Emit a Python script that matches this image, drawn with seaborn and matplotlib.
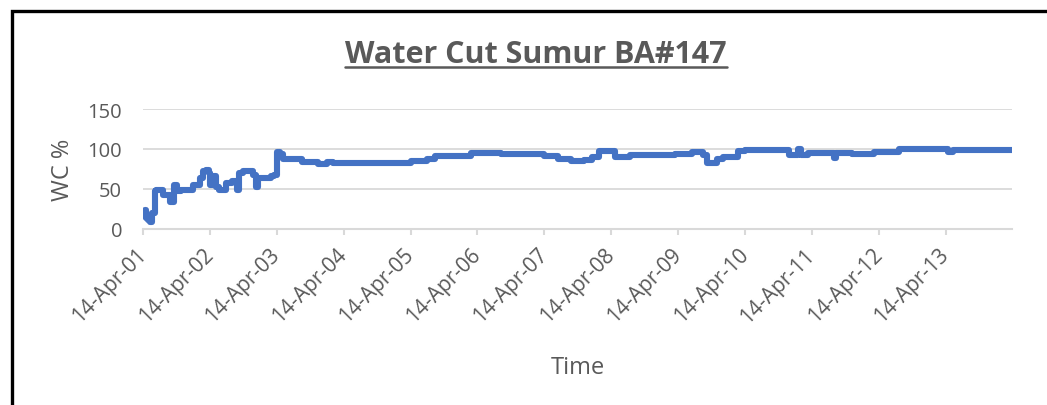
import matplotlib
matplotlib.use("Agg")
import matplotlib.pyplot as plt
import matplotlib.dates as mdates
from matplotlib.patches import Rectangle
from matplotlib.lines import Line2D
import pandas as pd
import seaborn as sns

# ---- data ----
dates = ["2001-04-14", "2001-04-23", "2001-05-02", "2001-05-11", "2001-05-24",
         "2001-06-04", "2001-06-17", "2001-06-25", "2001-08-02", "2001-09-07",
         "2001-10-01", "2001-10-14", "2001-11-10", "2002-01-13", "2002-02-18",
         "2002-03-09", "2002-03-23", "2002-04-07", "2002-04-14", "2002-05-02",
         "2002-05-17", "2002-06-04", "2002-07-11", "2002-08-11", "2002-09-07",
         "2002-09-22", "2002-10-14", "2002-12-04", "2002-12-22", "2003-01-04",
         "2003-03-12", "2003-03-30", "2003-04-17", "2003-05-01", "2003-05-16",
         "2003-08-30", "2003-11-26", "2004-01-16", "2004-02-14", "2004-11-20",
         "2005-04-14", "2005-07-14", "2005-08-27", "2006-03-09", "2006-08-20",
         "2007-04-14", "2007-06-26", "2007-09-07", "2007-11-19", "2008-01-01",
         "2008-02-08", "2008-05-02", "2008-07-25", "2009-03-27", "2009-06-26",
         "2009-08-27", "2009-09-18", "2009-11-11", "2009-12-17", "2010-03-08",
         "2010-04-14", "2010-12-07", "2011-01-27", "2011-02-11", "2011-03-23",
         "2011-08-12", "2011-08-23", "2011-11-19", "2012-03-18", "2012-08-01",
         "2013-04-25", "2013-05-21", "2014-04-10"]
wc = [17, 24, 14, 11, 9,
      20, 47, 49, 43, 34,
      55, 47, 49, 55, 64,
      72, 74, 70, 55, 66,
      53, 49, 58, 60, 49,
      70, 72, 68, 53, 64,
      66, 68, 96, 94, 87,
      84, 81, 84, 82, 83,
      85, 87, 91, 95, 94,
      91, 88, 85, 86, 90,
      98, 90, 92, 94, 96,
      92, 82, 87, 90, 98,
      99, 92, 100, 92, 95,
      89, 95, 94, 96, 100,
      96, 99, 99]
tick_dates = ["2001-04-14", "2002-04-14", "2003-04-14", "2004-04-14", "2005-04-14",
              "2006-04-14", "2007-04-14", "2008-04-14", "2009-04-14", "2010-04-14",
              "2011-04-14", "2012-04-14", "2013-04-14"]
y_ticks = [0, 50, 100, 150]
title = "Water Cut Sumur BA#147"
x_label = "Time"
y_label = "WC %"

df = pd.DataFrame({"date": pd.to_datetime(dates), "wc": wc})

sns.set_theme(style="white")
plt.rcParams["font.family"] = ["Open Sans", "DejaVu Sans"]

TXT = "#595959"
GRID = "#D9D9D9"
LINE = "#4472C4"

W, H = 1047, 406
fig = plt.figure(figsize=(W / 100, H / 100), dpi=100)
fig.patch.set_facecolor("white")
ax = fig.add_axes([143 / W, 1 - 230 / H, (1012 - 143) / W, 120 / H])

sns.lineplot(data=df, x="date", y="wc", ax=ax, color=LINE, linewidth=4.4,
             drawstyle="steps-post", solid_joinstyle="round", solid_capstyle="round")

ax.set_ylim(0, 150)
ax.set_xlim(pd.Timestamp("2001-04-14"), pd.Timestamp("2014-04-10"))
ax.set_yticks(y_ticks)
ax.set_xticks(pd.to_datetime(tick_dates))
ax.xaxis.set_major_formatter(mdates.DateFormatter("%d-%b-%y"))

ax.grid(axis="y", color=GRID, linewidth=1.3)
ax.grid(axis="x", visible=False)
for s in ["top", "right", "left"]:
    ax.spines[s].set_visible(False)
ax.spines["bottom"].set_color(GRID)
ax.spines["bottom"].set_linewidth(1.5)
ax.set_axisbelow(True)

ax.tick_params(axis="y", length=0, pad=15, labelsize=14.5, labelcolor=TXT)
ax.tick_params(axis="x", length=4, width=1.5, color=GRID, direction="out",
               pad=12, labelsize=15, labelcolor=TXT, bottom=True)
for lab in ax.get_xticklabels():
    lab.set_rotation(45)
    lab.set_ha("right")
    lab.set_va("center")
    lab.set_rotation_mode("anchor")

ax.set_xlabel(x_label, fontsize=17, color=TXT, ha="center", va="center")
ax.set_ylabel(y_label, fontsize=17, color=TXT, ha="center", va="center")
ax.xaxis.set_label_coords(0.5, (230 - 368) / 120)
ax.yaxis.set_label_coords((63 - 143) / (1012 - 143), 0.5)

t = fig.text(536 / W, 1 - 55 / H, title, ha="center", va="center",
             fontsize=22, fontweight="bold", color=TXT)

# frame of the chart area
fig.patches.append(Rectangle((11.5 / W, -0.2), 2.0, 1 - 12 / H + 0.2,
                             transform=fig.transFigure, fill=False,
                             edgecolor="black", linewidth=2.4))

# underline the title
fig.canvas.draw()
bb = t.get_window_extent()
uy = bb.y0 + 2
fig.lines.append(Line2D([bb.x0 / W, bb.x1 / W], [uy / H, uy / H],
                        transform=fig.transFigure, color=TXT, linewidth=1.8))

fig.savefig("out.png", dpi=100)
